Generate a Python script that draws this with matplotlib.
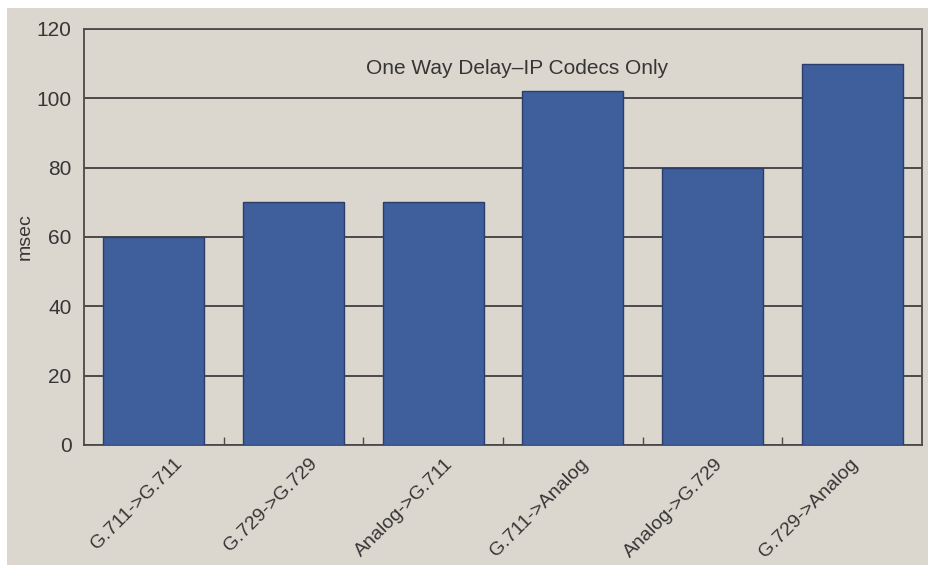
import matplotlib
matplotlib.use("Agg")
import matplotlib.pyplot as plt
from matplotlib.patches import Rectangle
from matplotlib.transforms import ScaledTranslation

categories = ["G.711->G.711", "G.729->G.729", "Analog->G.711",
              "G.711->Analog", "Analog->G.729", "G.729->Analog"]
delay_ms = [60, 70, 70, 102, 80, 110]
y_ticks = [0, 20, 40, 60, 80, 100, 120]
title = "One Way Delay\u2013IP Codecs Only"

paper = "#dcd7ce"
bar_color = "#3f5e9c"
edge_color = "#2b3d68"
ink = "#363636"
grid_color = "#4a4a4a"

plt.rcParams["font.family"] = ["Liberation Sans", "DejaVu Sans"]

DPI = 100
fig = plt.figure(figsize=(9.29, 5.65), dpi=DPI, facecolor="white")
fig.patches.append(Rectangle((7 / 929, 0), 1, 1 - 8 / 565,
                             transform=fig.transFigure, facecolor=paper,
                             edgecolor="none", zorder=-10))

ax = fig.add_axes([84 / 929, 120 / 565, 838 / 929, 416 / 565])
ax.set_facecolor(paper)

x = list(range(len(categories)))
ax.bar(x, delay_ms, width=0.725, color=bar_color, edgecolor=edge_color,
       linewidth=1.0, zorder=3)

ax.set_xlim(-0.5, len(categories) - 0.5)
ax.set_ylim(0, 120)
ax.set_yticks(y_ticks)
ax.set_yticklabels([str(v) for v in y_ticks], fontsize=15, color=ink)
ax.tick_params(axis="y", length=0, pad=9)
ax.yaxis.grid(True, color=grid_color, linewidth=1.4, zorder=1)
ax.set_axisbelow(True)

# category separators as small inward ticks
ax.set_xticks([i + 0.5 for i in range(len(categories) - 1)])
ax.set_xticklabels([])
ax.tick_params(axis="x", direction="in", length=6, width=1.0, color=grid_color)

# slanted category names, right end just below each bar
xform = ax.get_xaxis_transform()
for i, name in enumerate(categories):
    dx = (20 - 4.5 * i) / DPI
    off = ScaledTranslation(dx, -10 / DPI, fig.dpi_scale_trans)
    ax.text(i, 0, name, rotation=45, ha="right", va="top",
            rotation_mode="anchor", fontsize=14, color=ink,
            transform=xform + off)

for sp in ax.spines.values():
    sp.set_color(grid_color)
    sp.set_linewidth(1.3)

ax.text(0.517, 0.905, title, transform=ax.transAxes, ha="center", va="center",
        fontsize=15, color=ink)
ax.set_ylabel("msec", fontsize=14, color=ink, labelpad=2)

fig.savefig("out.png", dpi=DPI, facecolor=fig.get_facecolor())
